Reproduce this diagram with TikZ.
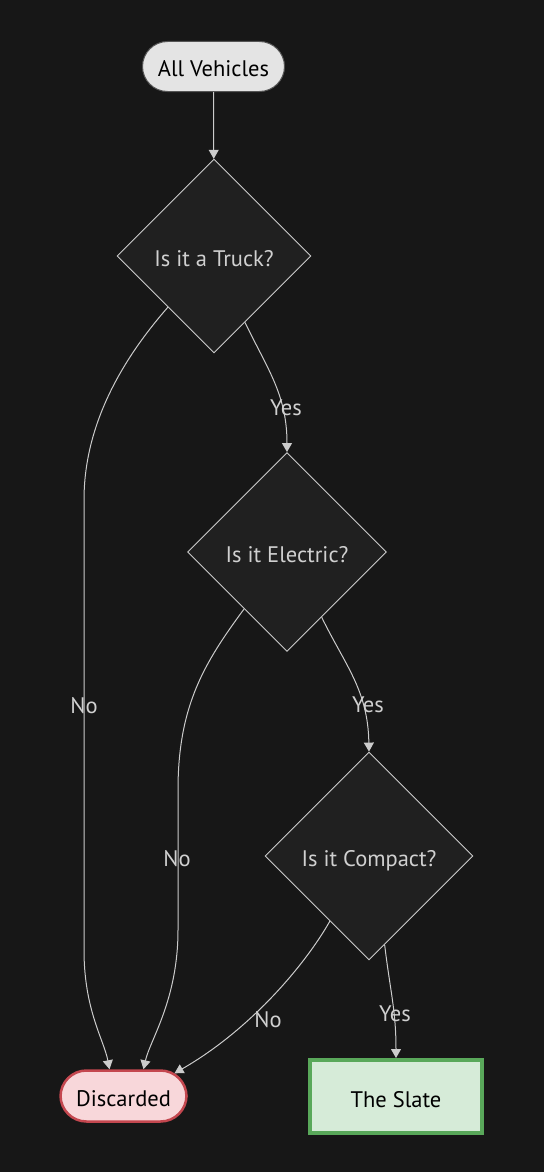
\documentclass[tikz,border=0pt]{standalone}
\usepackage{fontspec}
\setmainfont{PT Sans}
\usetikzlibrary{shapes.geometric,arrows.meta}
\definecolor{bg}{HTML}{171717}
\definecolor{linec}{HTML}{CCCCCC}
\definecolor{dfill}{HTML}{202020}
\definecolor{txt}{HTML}{D0D0D0}
\definecolor{startfill}{HTML}{E4E4E4}
\definecolor{startdraw}{HTML}{555555}
\definecolor{discfill}{HTML}{F8D7DA}
\definecolor{discdraw}{HTML}{C4474F}
\definecolor{slatefill}{HTML}{D6EBD8}
\definecolor{slatedraw}{HTML}{59A85A}
\begin{document}
\begin{tikzpicture}[x=1pt,y=-1pt,
  fontonly/.style={font=\fontsize{22.5}{27}\selectfont},
  basefont/.style={fontonly, text height=21pt, text depth=0pt},
  decision/.style={diamond, aspect=1, draw=linec, fill=dfill, line width=0.9pt,
    text=txt, inner sep=0pt, basefont},
  startbox/.style={rectangle, rounded corners=25pt, draw=startdraw, fill=startfill,
    line width=1pt, minimum width=142pt, minimum height=50pt, text=black, basefont},
  discbox/.style={rectangle, rounded corners=26pt, draw=discdraw, fill=discfill,
    line width=2.5pt, minimum width=126pt, minimum height=51pt, text=black, basefont},
  slatebox/.style={rectangle, draw=slatedraw, fill=slatefill,
    line width=4pt, minimum width=172pt, minimum height=73pt, text=black, basefont},
  edge/.style={draw=linec, line width=1pt, -{Triangle[length=9pt,width=10pt]}},
  lbl/.style={text=txt, inner sep=0pt, fontonly, text height=16pt, text depth=0pt}]
\fill[bg] (0,0) rectangle (544,1172);
\useasboundingbox (0,0) rectangle (544,1172);

\node[startbox] (allv) at (213.5,66.5) {All Vehicles};
\node[decision, minimum size=194pt] (truck) at (214,256) {Is it a Truck?};
\node[decision, minimum size=199pt] (elec) at (287,552) {Is it Electric?};
\node[decision, minimum size=208pt] (comp) at (369,856) {Is it Compact?};
\node[discbox] (disc) at (123.5,1096) {Discarded};
\node[slatebox] (slate) at (396,1096.5) {The Slate};

\draw[edge] (allv) -- (truck);
\draw[edge] (truck.228) .. controls (127,354) and (84,420) .. (84,500) -- (84,950)
  .. controls (84,1010) and (104,1040) .. ([xshift=-14pt]disc.north);
\draw[edge] (truck.295) .. controls (268,370) and (287,395) .. (elec.north);
\draw[edge] (elec.233) .. controls (205,662) and (178,705) .. (178,790) -- (178,930)
  .. controls (178,1000) and (150,1040) .. ([xshift=20pt]disc.north);
\draw[edge] (elec.298) .. controls (345,665) and (368,690) .. (comp.north);
\draw[edge] (comp.239) .. controls (305,965) and (250,1030) .. ([xshift=51pt,yshift=-4pt]disc.north);
\draw[edge] (comp.280) .. controls (390,990) and (396,1010) .. (slate.north);

\node[lbl] (l1) at (84,705) {No};
\node[lbl] (l2) at (286,407) {Yes};
\node[lbl] (l3) at (177,858) {No};
\node[lbl] (l4) at (368,704) {Yes};
\node[lbl] (l5) at (268,1019) {No};
\node[lbl] (l6) at (395,1013) {Yes};
\end{tikzpicture}
\end{document}
